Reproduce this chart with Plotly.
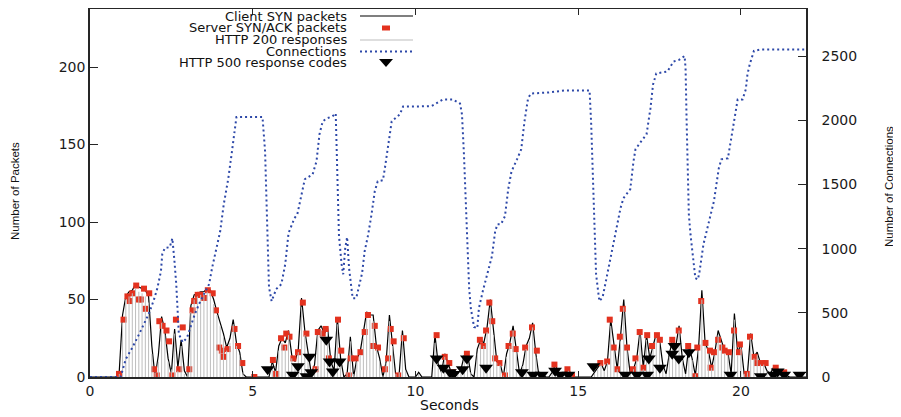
import plotly.graph_objects as go

# ------------------------------------------------------------------ data
# sample times (0.1 s bins) for the SYN line and HTTP 200 impulses
sample_t = [round(0.1 * i, 1) for i in range(221)]

client_syn = [
    0, 0, 0, 0, 0, 0, 0, 0, 0, 4,          # 0.x
    40, 52, 55, 56, 60, 58, 57, 56, 52, 20,  # 1.x
    0, 14, 39, 30, 12, 2, 31, 6, 24, 4,     # 2.x
    0, 46, 53, 54, 55, 55, 57, 56, 50, 42,  # 3.x
    35, 28, 19, 25, 37, 22, 16, 2, 0, 0,    # 4.x
    0, 0, 0, 0, 0, 0, 10, 3, 20, 25,        # 5.x
    22, 30, 14, 10, 18, 51, 30, 15, 2, 8,   # 6.x
    30, 33, 28, 32, 10, 4, 38, 12, 0, 2,    # 7.x
    26, 0, 12, 16, 28, 42, 40, 40, 20, 12,  # 8.x
    0, 10, 40, 22, 0, 2, 30, 5, 0, 0,       # 9.x
    0, 3, 0, 0, 0, 0, 27, 8, 3, 15,         # 10.x
    9, 3, 0, 2, 5, 14, 15, 2, 0, 18,        # 11.x
    24, 22, 32, 50, 30, 10, 9, 0, 15, 22,   # 12.x
    33, 18, 2, 8, 20, 25, 35, 15, 0, 2,     # 13.x
    0, 0, 3, 8, 2, 0, 3, 5, 1, 0,           # 14.x
    0, 0, 0, 0, 0, 3, 6, 9, 4, 10,          # 15.x
    37, 19, 5, 26, 50, 19, 2, 5, 12, 30,    # 16.x
    6, 27, 12, 20, 28, 24, 8, 2, 15, 24,    # 17.x
    20, 33, 12, 2, 20, 12, 1, 19, 56, 22,   # 18.x
    17, 6, 16, 30, 24, 17, 16, 2, 41, 16,   # 19.x
    21, 2, 2, 28, 13, 16, 9, 9, 4, 2,       # 20.x
    6, 6, 2, 3, 1, 0, 0, 0, 0, 0,           # 21.x
    0,
]

http200 = [
    0, 0, 0, 0, 0, 0, 0, 0, 0, 2,
    35, 50, 52, 54, 57, 55, 54, 52, 48, 15,
    3, 10, 35, 27, 10, 5, 28, 4, 20, 2,
    3, 42, 50, 52, 53, 53, 55, 54, 47, 40,
    33, 26, 17, 22, 34, 20, 14, 3, 0, 0,
    0, 0, 0, 0, 0, 0, 8, 4, 17, 22,
    20, 27, 12, 9, 16, 45, 27, 13, 3, 6,
    27, 30, 25, 29, 9, 3, 34, 10, 0, 3,
    23, 2, 10, 14, 25, 38, 37, 36, 18, 10,
    1, 9, 36, 20, 2, 3, 27, 4, 0, 0,
    0, 2, 0, 0, 0, 0, 22, 6, 4, 13,
    8, 2, 0, 3, 4, 12, 13, 3, 0, 15,
    21, 20, 29, 45, 27, 9, 8, 1, 13, 20,
    30, 16, 3, 7, 18, 23, 32, 13, 1, 2,
    0, 0, 2, 6, 2, 0, 2, 4, 1, 0,
    0, 0, 0, 0, 0, 2, 5, 8, 4, 9,
    33, 17, 5, 23, 45, 17, 3, 5, 11, 27,
    5, 24, 11, 18, 25, 22, 7, 2, 13, 22,
    18, 30, 11, 2, 18, 11, 2, 17, 50, 20,
    15, 6, 14, 27, 22, 15, 14, 3, 37, 14,
    19, 2, 3, 25, 12, 14, 8, 8, 4, 2,
    5, 5, 2, 3, 1, 0, 0, 0, 0, 0,
    0,
]

synack_t = [
    0.89, 1.03, 1.15, 1.22, 1.30, 1.42, 1.50, 1.56, 1.66, 1.71, 1.82, 1.97, 2.05,
    2.13, 2.23, 2.35, 2.43, 2.53, 2.64, 2.74, 2.85, 3.05, 3.15, 3.20, 3.31, 3.38,
    3.51, 3.62, 3.77, 3.87, 3.97, 4.05, 4.10, 4.23, 4.44, 4.55, 4.68, 5.05,
    5.62, 5.72, 5.87, 5.97, 6.03, 6.13, 6.25, 6.39, 6.54, 6.65, 6.93, 7.00, 7.15,
    7.24, 7.34, 7.62, 7.72, 7.95, 8.01, 8.16, 8.31, 8.44, 8.54, 8.70, 8.75, 8.85,
    9.06, 9.16, 9.24, 9.33, 9.47, 9.64,
    10.65, 10.90, 11.04, 11.14, 11.58, 11.98, 12.07, 12.17, 12.27, 12.36, 12.45,
    12.58, 12.75, 12.86, 12.99, 13.08, 13.37, 13.58, 13.73, 14.27, 14.67, 14.81,
    15.68, 15.89, 15.97, 16.09, 16.20, 16.28, 16.37, 16.50, 16.68, 16.76, 16.89,
    17.00, 17.12, 17.27, 17.42, 17.51, 17.89, 18.09, 18.38, 18.59, 18.66, 18.78,
    18.91, 19.05, 19.07, 19.17, 19.30, 19.43, 19.50, 19.63, 19.79, 19.94, 19.97,
    20.18, 20.28, 20.42, 20.50, 20.66, 20.76, 21.07, 21.33,
]
synack_v = [
    2, 37, 52, 49, 54, 59, 50, 50, 57, 44, 54, 5, 1,
    36, 33, 30, 23, 1, 37, 5, 32, 5, 43, 49, 53, 53,
    51, 56, 54, 43, 19, 17, 13, 18, 31, 20, 9, 0,
    11, 2, 25, 19, 28, 26, 12, 16, 48, 28, 5, 29, 28,
    31, 12, 37, 17, 1, 12, 12, 16, 29, 40, 20, 33, 19,
    5, 12, 31, 23, 1, 25,
    27, 13, 9, 3, 15, 24, 20, 30, 48, 36, 12,
    9, 1, 20, 28, 18, 19, 32, 17, 8, 5, 1,
    9, 10, 37, 19, 5, 26, 44, 19, 5, 12, 29,
    6, 27, 20, 27, 24, 24, 30, 20, 0.5, 19, 49,
    22, 17, 6, 16, 24, 19, 17, 16, 30, 16, 21,
    2, 26, 13, 9, 9, 9, 6, 3,
]

http500_t = [
    5.46, 6.23, 6.39, 6.65, 6.74, 6.80, 7.26, 7.36, 7.46, 7.67,
    10.65, 10.86, 11.06, 11.17, 11.45, 11.58, 12.17, 13.27, 13.62, 13.88,
    14.29, 14.45, 14.70, 15.47, 16.45, 16.81, 17.12, 17.17, 17.51, 17.89,
    17.96, 18.09, 18.40, 19.68, 20.61, 21.00, 21.13, 21.33, 21.80,
]
http500_v = [
    5, 1.5, 7, 0.5, 13, 3, 24, 10, 3.5, 10,
    12, 6, 3, 2, 5, 12, 6, 3, 1.5, 1.5,
    4, 1.5, 1.5, 7, 1.5, 1.5, 1.5, 12, 6, 15,
    20, 12, 16, 1.5, 0.5, 1.5, 3.5, 1.5, 1.5,
]

conn_t = [
    0, 0.94, 1.1, 1.3, 1.51, 1.66, 1.82, 1.97, 2.07, 2.18, 2.22, 2.3, 2.45, 2.53,
    2.56, 2.59, 2.65, 2.73, 2.85, 2.98, 3.2, 3.35, 3.5, 3.66, 3.75, 3.9, 4.0, 4.11,
    4.18, 4.25, 4.35, 4.44, 4.5, 5.3, 5.33, 5.38, 5.42, 5.46, 5.5, 5.58, 5.72, 5.88,
    6.0, 6.1, 6.28, 6.37, 6.44, 6.5, 6.6, 6.84, 6.96, 7.05, 7.15, 7.27, 7.45, 7.55,
    7.6, 7.65, 7.73, 7.78, 7.84, 7.9, 7.96, 8.02, 8.07, 8.18, 8.26, 8.36, 8.44,
    8.55, 8.65, 8.75, 8.84, 9.0, 9.06, 9.12, 9.2, 9.27, 9.52, 9.62, 10.1, 10.5,
    10.85, 11.15, 11.37, 11.43, 11.49, 11.55, 11.58, 11.65, 11.7, 11.8, 11.9,
    11.95, 12.07, 12.26, 12.35, 12.45, 12.52, 12.63, 12.75, 12.85, 12.95, 13.12,
    13.25, 13.35, 13.46, 13.55, 14.1, 14.6, 15.35, 15.4, 15.45, 15.5, 15.55,
    15.65, 15.75, 15.87, 16.02, 16.17, 16.3, 16.39, 16.6, 16.7, 16.76, 16.91,
    17.1, 17.22, 17.3, 17.4, 17.74, 17.93, 18.1, 18.27, 18.3, 18.33, 18.36, 18.4,
    18.45, 18.51, 18.6, 18.68, 18.73, 18.85, 19.0, 19.17, 19.32, 19.4, 19.6,
    19.75, 19.85, 19.9, 20.05, 20.15, 20.2, 20.27, 20.4, 20.6, 22,
]
conn_v = [
    0, 0, 140, 228, 334, 412, 500, 606, 692, 824, 956, 1005, 1011, 1080,
    1011, 918, 723, 334, 270, 306, 475, 568, 645, 723, 848, 1034, 1135, 1345,
    1446, 1547, 1734, 1928, 2025, 2025, 1936, 1757, 1400, 1003, 700, 590, 684, 723,
    880, 1120, 1236, 1267, 1345, 1431, 1540, 1578, 1680, 1890, 1991, 2014, 2030, 2053,
    1600, 1100, 879, 800, 1000, 1090, 848, 692, 614, 614, 692, 808, 980,
    1112, 1267, 1446, 1524, 1532, 1625, 1734, 1890, 1991, 2045, 2107, 2107, 2110,
    2162, 2162, 2130, 2045, 1734, 1345, 1081, 692, 537, 390, 380,
    537, 669, 840, 941, 1135, 1190, 1190, 1252, 1462, 1600, 1695,
    1773, 1991, 2170, 2208, 2216, 2232, 2232, 1967, 1578, 1190, 800,
    591, 620, 770, 956, 1135, 1314, 1392, 1462, 1680, 1773, 1827,
    1890, 2092, 2278, 2364, 2379, 2457, 2470, 2500, 2403, 2014, 1656, 1267,
    1112, 980, 770, 760, 824, 1034, 1198, 1368, 1625, 1695, 1703,
    1913, 2084, 2162, 2162, 2240, 2356, 2434, 2540, 2550, 2550,
]

x_ticks = [0, 5, 10, 15, 20]
y_ticks = [0, 50, 100, 150, 200]
y2_ticks = [0, 500, 1000, 1500, 2000, 2500]

legend_labels = ["Client SYN packets", "Server SYN/ACK packets", "HTTP 200 responses",
                 "Connections", "HTTP 500 response codes"]

# ------------------------------------------------------------------ style / layout
# the page body has an 8px default margin: all target positions below are given
# in window pixels and shifted by OFF into figure pixels.
W, H = 901, 417
OFF = 8
ML, MR, MT, MB = 82, 103, 1, 48          # plot area in window: x 90..806, y 9..377
PW, PH = W - ML - MR, H - MT - MB
PX_PER_PKT = 1.55                         # window px per packet (left axis)
PX_PER_CONN = 0.1284                      # window px per connection (right axis)
Y_TOP = PH / PX_PER_PKT
Y2_TOP = PH / PX_PER_CONN


def px(xw):
    return (xw - OFF - ML) / PW


def py(yw):
    return (H - MB - (yw - OFF)) / PH


RED = "#e3321f"
BLUE = "#2d48a8"
GREY = "#bdbdbd"
AX = "#262626"
TICKFONT = dict(family="DejaVu Sans", size=14, color="#1a1a1a")

# impulses for HTTP 200 responses
imp_x, imp_y = [], []
for t, v in zip(sample_t, http200):
    if v > 0:
        imp_x += [t, t, None]
        imp_y += [0, v, None]

fig = go.Figure()
fig.add_trace(go.Scatter(x=sample_t, y=client_syn, mode="lines",
                         line=dict(color="black", width=1.2), name=legend_labels[0],
                         showlegend=False, hoverinfo="skip"))
fig.add_trace(go.Scatter(x=synack_t, y=synack_v, mode="markers",
                         marker=dict(symbol="square", size=6, color=RED, line=dict(width=0)),
                         name=legend_labels[1], showlegend=False, hoverinfo="skip"))
fig.add_trace(go.Scatter(x=imp_x, y=imp_y, mode="lines",
                         line=dict(color=GREY, width=1), name=legend_labels[2],
                         showlegend=False, hoverinfo="skip"))
fig.add_trace(go.Scatter(x=conn_t, y=conn_v, mode="lines", yaxis="y2",
                         line=dict(color=BLUE, width=2, dash="2px,3px"),
                         name=legend_labels[3], showlegend=False, hoverinfo="skip"))
fig.add_trace(go.Scatter(x=http500_t, y=http500_v, mode="markers",
                         marker=dict(symbol="triangle-down", size=12, color="black",
                                     line=dict(width=0)),
                         name=legend_labels[4], showlegend=False, hoverinfo="skip"))

# gnuplot-style key: right-aligned text with sample to the right
key_rows = [16, 28, 40, 51.5, 63]
annotations = []
for lab, yr in zip(legend_labels, key_rows):
    annotations.append(dict(text=lab, x=px(349), y=py(yr), xref="paper", yref="paper",
                            xanchor="right", yanchor="middle", showarrow=False,
                            font=dict(family="DejaVu Sans", size=13, color="#111")))

shapes = [
    dict(type="line", xref="paper", yref="paper", x0=px(360), x1=px(413),
         y0=py(key_rows[0]), y1=py(key_rows[0]), line=dict(color="black", width=1.2)),
    dict(type="rect", xref="paper", yref="paper", x0=px(382), x1=px(390),
         y0=py(key_rows[1] + 2.5), y1=py(key_rows[1] - 2.5), fillcolor=RED,
         line=dict(width=0)),
    dict(type="line", xref="paper", yref="paper", x0=px(360), x1=px(413),
         y0=py(key_rows[2]), y1=py(key_rows[2]), line=dict(color=GREY, width=1)),
    dict(type="line", xref="paper", yref="paper", x0=px(360), x1=px(413),
         y0=py(key_rows[3]), y1=py(key_rows[3]),
         line=dict(color=BLUE, width=2, dash="2px,3px")),
    dict(type="path", xref="paper", yref="paper",
         path="M {a},{b} L {c},{b} L {d},{e} Z".format(
             a=px(379), c=px(393), d=px(386), b=py(key_rows[4] - 4), e=py(key_rows[4] + 4)),
         fillcolor="black", line=dict(width=0)),
]

# axis titles
annotations += [
    dict(text="Number of Packets", x=px(15), y=py(191), xref="paper", yref="paper",
         textangle=-90, showarrow=False, xanchor="center", yanchor="middle",
         font=dict(family="Liberation Sans", size=11.5, color="#111")),
    dict(text="Number of Connections", x=px(889), y=py(186), xref="paper", yref="paper",
         textangle=-90, showarrow=False, xanchor="center", yanchor="middle",
         font=dict(family="Liberation Sans", size=11.5, color="#111")),
    dict(text="Seconds", x=px(449), y=py(405), xref="paper", yref="paper",
         showarrow=False, xanchor="center", yanchor="middle",
         font=dict(family="DejaVu Sans", size=14, color="#111")),
]

fig.update_layout(
    width=W, height=H,
    margin=dict(l=ML, r=MR, t=MT, b=MB, pad=0, autoexpand=False),
    paper_bgcolor="white", plot_bgcolor="white",
    template="none",
    showlegend=False,
    xaxis=dict(range=[0, 22], tickvals=x_ticks, ticktext=[str(v) for v in x_ticks],
               ticks="inside", ticklen=6, tickwidth=1, tickcolor=AX,
               showline=True, linecolor=AX, linewidth=1.5, mirror="ticks",
               showgrid=False, zeroline=False, tickfont=TICKFONT,
               ticklabelstandoff=0, automargin=False),
    yaxis=dict(range=[0, Y_TOP], tickvals=y_ticks, ticktext=[str(v) for v in y_ticks],
               ticks="inside", ticklen=8, tickwidth=1, tickcolor=AX,
               showline=True, linecolor=AX, linewidth=1.5,
               showgrid=False, zeroline=False, tickfont=TICKFONT,
               ticklabelstandoff=0, automargin=False),
    yaxis2=dict(range=[0, Y2_TOP], tickvals=y2_ticks, ticktext=[str(v) for v in y2_ticks],
                overlaying="y", side="right",
                ticks="inside", ticklen=8, tickwidth=1, tickcolor=AX,
                showline=True, linecolor=AX, linewidth=1.5,
                showgrid=False, zeroline=False, tickfont=TICKFONT,
                ticklabelstandoff=11, automargin=False),
    annotations=annotations,
    shapes=shapes,
)

fig.write_html("out.html")
